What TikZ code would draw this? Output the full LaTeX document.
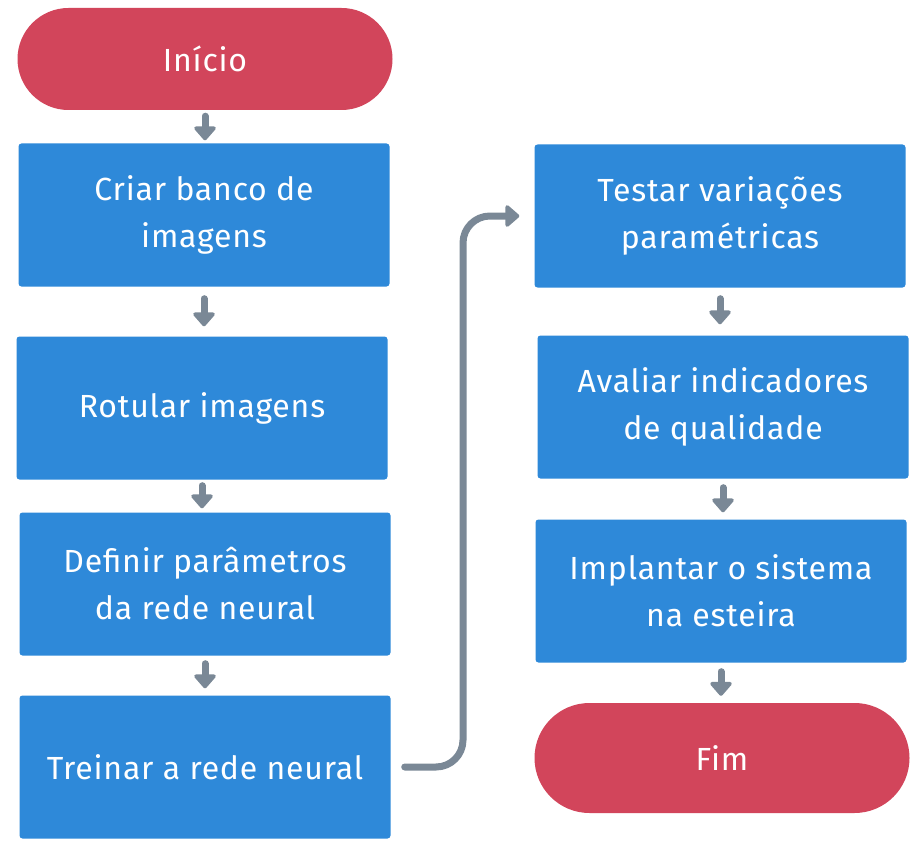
\documentclass[tikz,border=0pt]{standalone}
\usepackage{fontspec}
\setmainfont{Fira Sans}
\newfontfamily\flowfont[LetterSpace=2.5]{Fira Sans}
\usetikzlibrary{arrows.meta}
\definecolor{termred}{RGB}{210,69,91}
\definecolor{boxblue}{RGB}{46,137,217}
\definecolor{flowgrey}{RGB}{122,136,150}
\tikzset{
  procbox/.style={rectangle, rounded corners=3pt, fill=boxblue, minimum width=371pt, minimum height=143pt,
    align=center, text=white, font=\flowfont\fontsize{32}{47}\selectfont},
  termbox/.style={rectangle, rounded corners=51pt, fill=termred, minimum width=375pt, minimum height=102pt,
    align=center, text=white, font=\flowfont\fontsize{32}{47}\selectfont},
  flow/.style={draw=flowgrey, line width=7pt, line cap=round, -{Triangle[width=25pt,length=15pt,round]}},
}
\begin{document}
\begin{tikzpicture}[x=1pt, y=-1pt]
  \useasboundingbox[fill=white] (0,0) rectangle (923,853);
  % left column
  \node[termbox] (inicio) at (205,59) {Início};
  \node[procbox] (criar) at (204,215) {Criar banco de\\imagens};
  \node[procbox] (rotular) at (202,408) {Rotular imagens};
  \node[procbox] (definir) at (205,584) {Definir parâmetros\\da rede neural};
  \node[procbox] (treinar) at (205,767) {Treinar a rede neural};
  % right column
  \node[procbox] (testar) at (720,216) {Testar variações\\paramétricas};
  \node[procbox] (avaliar) at (723,407) {Avaliar indicadores\\de qualidade};
  \node[procbox] (implantar) at (721,591) {Implantar o sistema\\na esteira};
  \node[termbox, minimum height=110pt, rounded corners=55pt] (fim) at (722,758) {Fim};
  \coordinate (bend) at (463,0);
  % connectors
  \draw[flow, shorten <=6pt, shorten >=3pt] (inicio.south) -- (inicio.south |- criar.north);
  \draw[flow, shorten <=12pt, shorten >=10pt] (criar.south) -- (criar.south |- rotular.north);
  \draw[flow, shorten <=6pt, shorten >=4pt] (rotular.south) -- (rotular.south |- definir.north);
  \draw[flow, shorten <=8pt, shorten >=7pt] (definir.south) -- (definir.south |- treinar.north);
  \draw[flow, rounded corners=27pt, shorten <=14pt, shorten >=15pt]
    (treinar.east) -- (bend |- treinar.east) -- (bend |- testar.west) -- (testar.west);
  \draw[flow, shorten <=11pt, shorten >=11pt] (testar.south) -- (testar.south |- avaliar.north);
  \draw[flow, shorten <=9pt, shorten >=7pt] (avaliar.south) -- (avaliar.south |- implantar.north);
  \draw[flow, shorten <=9pt, shorten >=7pt] (implantar.south) -- (implantar.south |- fim.north);
\end{tikzpicture}
\end{document}
